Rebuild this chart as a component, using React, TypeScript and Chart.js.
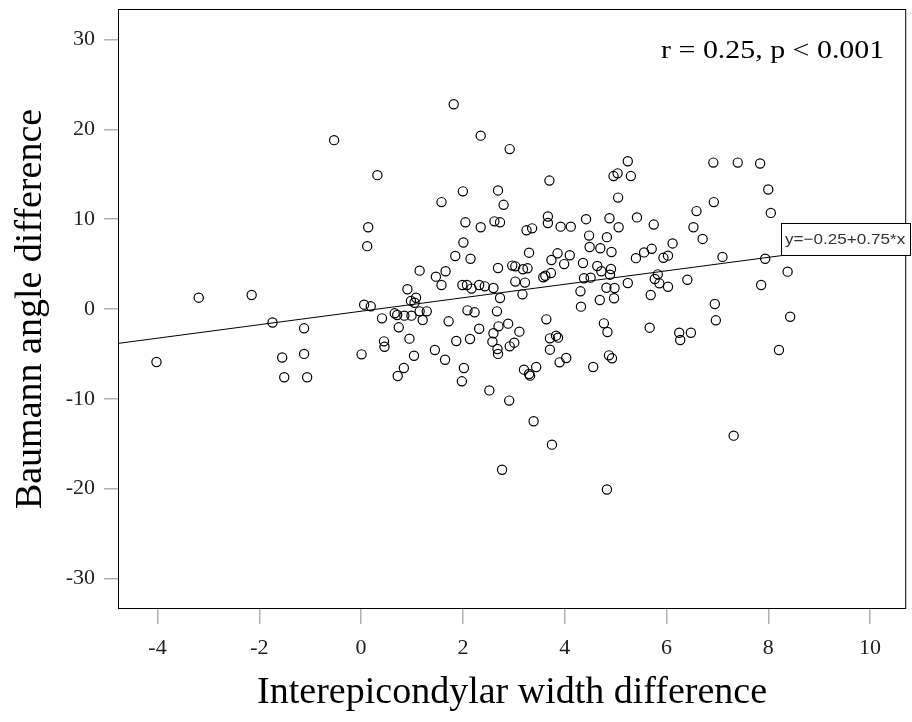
import React, { useEffect, useRef } from "react";
import { Chart, registerables } from "chart.js";

Chart.register(...registerables);

// Interepicondylar width difference (x) and Baumann angle difference (y)
const xValues: number[] = [
  -4.02, -3.19, -2.15, -1.74, -1.55, -1.51, -1.12, -1.12, -1.06, -0.53,
  0.01, 0.06, 0.12, 0.14, 0.19, 0.32, 0.41, 0.45, 0.46, 0.66,
  0.71, 0.72, 0.74, 0.84, 0.85, 0.91, 0.95, 0.98, 0.99, 1.04,
  1.05, 1.08, 1.15, 1.15, 1.21, 1.29, 1.45, 1.47, 1.58, 1.58,
  1.65, 1.66, 1.72, 1.82, 1.85, 1.87, 1.98, 1.99, 2.0, 2.01,
  2.02, 2.05, 2.08, 2.09, 2.14, 2.15, 2.17, 2.23, 2.32, 2.32,
  2.35, 2.35, 2.43, 2.52, 2.58, 2.6, 2.6, 2.62, 2.67, 2.68,
  2.69, 2.69, 2.69, 2.7, 2.73, 2.73, 2.77, 2.8, 2.89, 2.91,
  2.92, 2.92, 2.97, 3.01, 3.03, 3.03, 3.11, 3.17, 3.18, 3.2,
  3.22, 3.25, 3.27, 3.3, 3.3, 3.32, 3.36, 3.39, 3.44, 3.58,
  3.62, 3.64, 3.67, 3.67, 3.7, 3.71, 3.71, 3.73, 3.74, 3.75,
  3.83, 3.86, 3.87, 3.9, 3.92, 3.99, 4.03, 4.1, 4.12, 4.31,
  4.32, 4.36, 4.38, 4.42, 4.48, 4.49, 4.51, 4.56, 4.64, 4.69,
  4.7, 4.72, 4.77, 4.82, 4.83, 4.83, 4.84, 4.87, 4.88, 4.89,
  4.91, 4.92, 4.93, 4.96, 4.97, 4.98, 5.04, 5.05, 5.06, 5.24,
  5.24, 5.3, 5.42, 5.4, 5.56, 5.67, 5.69, 5.71, 5.75, 5.77,
  5.83, 5.86, 5.94, 6.03, 6.03, 6.12, 6.25, 6.27, 6.41, 6.48,
  6.53, 6.59, 6.71, 6.92, 6.93, 6.95, 6.97, 7.1, 7.32, 7.4,
  7.84, 7.86, 7.94, 8.0, 8.05, 8.21, 8.38, 8.43,
];
const yValues: number[] = [
  -5.9, 1.26, 1.56, -1.5, -5.4, -7.6, -2.15, -5.0, -7.6, 18.8,
  -5.05, 0.48, 7.0, 9.1, 0.3, 14.9, -1.04, -3.6, -4.2, -0.48,
  -0.67, -7.46, -2.04, -6.57, -0.74, 2.2, -3.3, 0.9, -0.74, -5.2,
  0.7, 1.25, 4.27, -0.26, -1.22, -0.26, -4.57, 3.6, 11.9, 2.67,
  -5.65, 4.2, -1.37, 22.8, 5.9, -3.56, -8.05, 2.67, 13.1, 7.4,
  -6.57, 9.65, 2.67, -0.15, -3.34, 5.6, 2.27, -0.37, 2.67, -2.2,
  19.3, 9.1, 2.52, -9.06, -3.64, 2.34, -2.7, 9.76, -0.26, -4.45,
  13.2, 4.57, -5.0, -1.93, 9.65, 1.22, -17.9, 11.6, -1.63, -10.2,
  17.8, -4.16, 4.83, -3.75, 4.75, 3.05, -2.52, 1.63, 4.42, -6.75,
  2.94, 8.76, 4.53, 6.27, -7.24, -7.42, 8.98, -12.5, -6.46, 3.53,
  3.7, -1.15, 10.3, 9.58, 14.3, -3.27, -4.53, 4.0, 5.46, -15.1,
  -2.97, 6.2, -3.19, -5.94, 9.17, 5.0, -5.46, 5.98, 9.17, 1.97,
  0.26, 5.12, 3.42, 10.0, 8.17, 6.9, 3.49, -6.46, 4.79, 1.0,
  6.76, 4.2, -1.6, 2.37, 8.0, -20.1, -2.56, -5.16, 10.1, 3.82,
  4.45, 6.35, -5.49, 14.8, 1.2, 2.34, 15.1, 12.4, 9.1, 16.45,
  2.9, 14.8, 10.2, 5.66, 6.3, -2.08, 1.56, 6.7, 9.4, 3.34,
  3.86, 2.86, 5.7, 5.94, 2.48, 7.3, -2.64, -3.45, 3.26, -2.64,
  9.1, 10.9, 7.8, 16.3, 11.9, 0.56, -1.26, 5.8, -14.1, 16.3,
  16.2, 2.67, 5.6, 13.3, 10.7, -4.57, 4.16, -0.86,
];

const xTicks: number[] = [-4, -2, 0, 2, 4, 6, 8, 10];
const yTicks: number[] = [-30, -20, -10, 0, 10, 20, 30];
const xRange: number[] = [-4.776, 10.71];
const yRange: number[] = [-33.4, 33.4];

const fitIntercept = -0.25;
const fitSlope = 0.75;
const fitXs: number[] = [-4.776, 8.41];
const fitLabel = "y=\u22120.25+0.75*x";
const statsText = "r = 0.25, p < 0.001";
const xTitle = "Interepicondylar width difference";
const yTitle = "Baumann angle difference";

const SERIF = '"Liberation Serif", "Times New Roman", serif';
const SANS = '"Liberation Sans", Arial, sans-serif';

const framePlugin = {
  id: "frameAndNotes",
  afterDatasetsDraw(chart: any) {
    const { ctx, chartArea: a, scales } = chart;
    ctx.save();
    ctx.strokeStyle = "#000";
    ctx.lineWidth = 1;
    ctx.strokeRect(a.left + 0.5, a.top + 0.5, a.right - a.left - 1, a.bottom - a.top - 1);

    // fit equation box at the end of the line
    const endX = fitXs[fitXs.length - 1];
    const ex = scales.x.getPixelForValue(endX);
    const ey = scales.y.getPixelForValue(fitIntercept + fitSlope * endX);
    ctx.font = "15px " + SANS;
    const sx = 1.14;
    const tw = ctx.measureText(fitLabel).width * sx;
    const bh = 32;
    const bx = Math.round(ex - 8);
    const by = Math.round(ey - bh);
    const bw = Math.round(tw + 9);
    ctx.fillStyle = "#fff";
    ctx.fillRect(bx, by, bw, bh);
    ctx.strokeRect(bx + 0.5, by + 0.5, bw, bh);
    ctx.fillStyle = "#333";
    ctx.textAlign = "left";
    ctx.textBaseline = "middle";
    ctx.save();
    ctx.translate(bx + 4, by + bh / 2 + 1);
    ctx.scale(sx, 1);
    ctx.fillText(fitLabel, 0, 0);
    ctx.restore();

    // statistics annotation
    ctx.font = "26px " + SERIF;
    ctx.fillStyle = "#000";
    ctx.textAlign = "right";
    ctx.textBaseline = "alphabetic";
    ctx.translate(a.right - 22, a.top + 49);
    ctx.scale(1.15, 1);
    ctx.fillText(statsText, 0, 0);
    ctx.restore();
  },
};

export default function App() {
  const ref = useRef<HTMLCanvasElement | null>(null);

  useEffect(() => {
    document.body.style.margin = "0";
    document.body.style.overflow = "hidden";
    const canvas = ref.current;
    if (!canvas) return;

    const points = xValues.map((x, i) => ({ x, y: yValues[i] }));
    const fitPoints = fitXs.map((x) => ({ x, y: fitIntercept + fitSlope * x }));

    const chart = new Chart(canvas, {
      type: "scatter",
      data: {
        datasets: [
          {
            data: points,
            pointRadius: 4.6,
            pointBorderWidth: 1.2,
            borderColor: "#000",
            backgroundColor: "rgba(0,0,0,0)",
            pointBackgroundColor: "rgba(0,0,0,0)",
            pointBorderColor: "#000",
            showLine: false,
            order: 1,
          },
          {
            data: fitPoints,
            showLine: true,
            borderColor: "#000",
            borderWidth: 1,
            pointRadius: 0,
            order: 2,
          },
        ],
      },
      options: {
        responsive: false,
        animation: false,
        devicePixelRatio: 1,
        layout: { padding: { top: 9, right: 2, left: 0, bottom: 0 } },
        plugins: {
          legend: { display: false },
          tooltip: { enabled: false },
        },
        scales: {
          x: {
            type: "linear",
            min: xRange[0],
            max: xRange[1],
            afterBuildTicks: (s: any) => {
              s.ticks = xTicks.map((v) => ({ value: v }));
            },
            afterFit: (s: any) => {
              s.height = 113;
              s.paddingLeft = 0;
              s.paddingRight = 0;
            },
            grid: {
              drawOnChartArea: false,
              drawTicks: true,
              tickLength: 15,
              color: "#b0b0b0",
              lineWidth: 1.5,
            },
            border: { display: false },
            ticks: {
              padding: 11,
              color: "#222",
              font: { family: SERIF, size: 22 },
              callback: (v: any) => String(v),
            },
            title: {
              display: true,
              text: xTitle,
              color: "#000",
              font: { family: SERIF, size: 38 },
              padding: { top: 0, bottom: 6 },
            },
          },
          y: {
            type: "linear",
            min: yRange[0],
            max: yRange[1],
            afterBuildTicks: (s: any) => {
              s.ticks = yTicks.map((v) => ({ value: v }));
            },
            afterFit: (s: any) => {
              s.width = 118;
              s.paddingTop = 0;
              s.paddingBottom = 0;
            },
            grid: {
              drawOnChartArea: false,
              drawTicks: true,
              tickLength: 14,
              color: "#b0b0b0",
              lineWidth: 1.5,
            },
            border: { display: false },
            ticks: {
              padding: 9,
              color: "#222",
              font: { family: SERIF, size: 22 },
              callback: (v: any) => String(v),
            },
            title: {
              display: true,
              text: yTitle,
              color: "#000",
              font: { family: SERIF, size: 38 },
              padding: { top: 8, bottom: 0 },
            },
          },
        },
      },
      plugins: [framePlugin],
    } as any);

    return () => chart.destroy();
  }, []);

  return (
    <div style={{ width: 912, height: 722 }}>
      <canvas ref={ref} width={912} height={722} style={{ display: "block", width: 912, height: 722 }} />
    </div>
  );
}
